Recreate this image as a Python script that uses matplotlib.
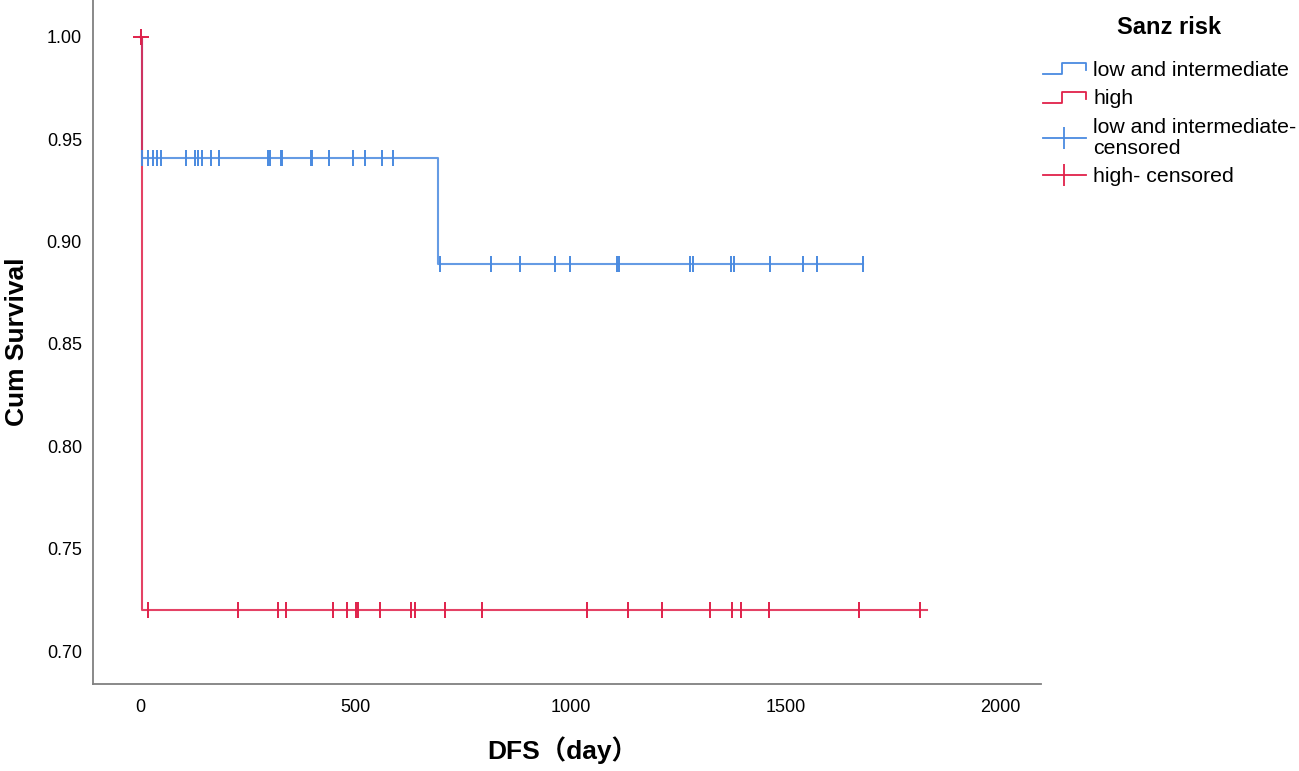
import numpy as np
import matplotlib.pyplot as plt
from matplotlib.lines import Line2D
from matplotlib.legend_handler import HandlerBase

# Kaplan-Meier steps (time in days, cumulative survival)
low_step_t = [0, 3, 692, 1680]
low_step_s = [1.0, 0.941, 0.889, 0.889]
high_step_t = [0, 3, 1829]
high_step_s = [1.0, 0.720, 0.720]

# censored observations
low_cens_t = [2, 5, 18, 29, 39, 49, 107, 128, 134, 143, 165, 184, 296, 302, 327, 329,
              396, 400, 439, 495, 523, 563, 588,
              697, 815, 884, 965, 998, 1108, 1113, 1278, 1285, 1374, 1380, 1465,
              1542, 1573, 1680]
high_cens_t = [2, 18, 227, 321, 339, 447, 481, 502, 507, 558, 630, 638, 709, 795,
               1039, 1135, 1212, 1324, 1376, 1397, 1463, 1671, 1814]

blue = "#4a8ae0"
red = "#e0214a"


def surv_at(times, step_t, step_s):
    idx = np.searchsorted(step_t, times, side="right") - 1
    return np.array(step_s)[idx]


# legend glyph shaped like a little survival step
class StepHandler(HandlerBase):
    def create_artists(self, legend, orig_handle, xdescent, ydescent, width, height, fontsize, trans):
        x0 = -xdescent
        y0 = -ydescent + height * 0.1
        h = height * 0.75
        xs = [x0, x0 + width * 0.45, x0 + width * 0.45, x0 + width, x0 + width]
        ys = [y0, y0, y0 + h, y0 + h, y0 + h * 0.4]
        line = Line2D(xs, ys, color=orig_handle.get_color(), lw=1.3)
        line.set_transform(trans)
        return [line]


plt.rcParams['font.family'] = ['Liberation Sans', 'Noto Sans CJK SC', 'DejaVu Sans']

fig = plt.figure(figsize=(12.99, 7.71), dpi=100)
ax = fig.add_axes([0.0716, 0.113, 0.73, 0.887])

ax.step(low_step_t, low_step_s, where="post", color=blue, lw=1.5, alpha=0.85)
ax.step(high_step_t, high_step_s, where="post", color=red, lw=1.5, alpha=0.85)

ax.plot(low_cens_t, surv_at(low_cens_t, low_step_t, low_step_s), ls="none",
        marker="|", ms=11, mew=1.4, color=blue)
ax.plot(high_cens_t, surv_at(high_cens_t, high_step_t, high_step_s), ls="none",
        marker="|", ms=11, mew=1.4, color=red)
ax.plot([high_cens_t[0]], [1.0], ls="none", marker="_", ms=11, mew=1.4, color=red)

ax.set_xlim(-110, 2095)
ax.set_ylim(0.684, 1.018)
ax.set_xticks([0, 500, 1000, 1500, 2000])
ax.set_yticks([0.70, 0.75, 0.80, 0.85, 0.90, 0.95, 1.00])
ax.set_yticklabels(["0.70", "0.75", "0.80", "0.85", "0.90", "0.95", "1.00"])
ax.tick_params(length=0, labelsize=13)
ax.tick_params(axis="y", pad=8)
ax.tick_params(axis="x", pad=11)
for side in ["top", "right"]:
    ax.spines[side].set_visible(False)
for side in ["left", "bottom"]:
    ax.spines[side].set_color("#808080")
    ax.spines[side].set_linewidth(1.3)

ax.set_xlabel("DFS（day）", fontsize=19, fontweight="bold")
ax.xaxis.set_label_coords(0.495, -0.077)
ax.set_ylabel("Cum Survival", fontsize=19, fontweight="bold")
ax.yaxis.set_label_coords(-0.067, 0.5)

handles = [
    Line2D([], [], color=blue),
    Line2D([], [], color=red),
    Line2D([], [], color=blue, lw=1.3, marker="|", ms=16, mew=1.3),
    Line2D([], [], color=red, lw=1.3, marker="|", ms=16, mew=1.3),
]
labels = ["low and intermediate", "high", "low and intermediate-\ncensored", "high- censored"]
leg = fig.legend(handles, labels, loc="upper left", bbox_to_anchor=(0.803, 0.921),
                 frameon=False, fontsize=15.3, borderpad=0, borderaxespad=0,
                 handlelength=2.0, handletextpad=0.35, labelspacing=0.45,
                 handler_map={handles[0]: StepHandler(), handles[1]: StepHandler()})
for t in leg.get_texts():
    t.set_linespacing(1.1)

fig.text(0.9, 0.964, "Sanz risk", fontsize=17, fontweight="bold", ha="center", va="center")

fig.savefig("out.png", dpi=100)
